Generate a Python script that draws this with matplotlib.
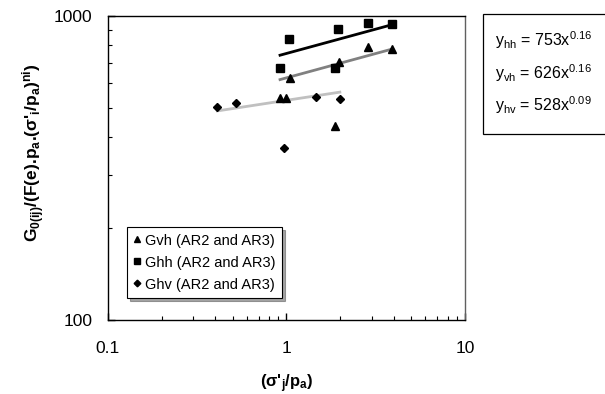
import numpy as np
import matplotlib
matplotlib.use("Agg")
import matplotlib.pyplot as plt
from matplotlib.patches import Rectangle
from matplotlib.ticker import LogLocator, FixedFormatter, FixedLocator, NullFormatter

plt.rcParams["font.family"] = ["Liberation Sans", "DejaVu Sans"]
plt.rcParams["mathtext.fontset"] = "custom"
plt.rcParams["mathtext.rm"] = "Liberation Sans"
plt.rcParams["mathtext.it"] = "Liberation Sans:italic"
plt.rcParams["mathtext.bf"] = "Liberation Sans:bold"

# Ghh measurements
hh_x = [0.92, 1.03, 1.87, 1.94, 2.85, 3.91]
hh_y = [674, 842, 673, 906, 950, 943]
# Gvh measurements
vh_x = [0.92, 0.99, 1.04, 1.88, 1.96, 2.85, 3.91]
vh_y = [539, 539, 624, 435, 704, 793, 777]
# Ghv measurements
hv_x = [0.41, 0.52, 0.97, 1.47, 1.99]
hv_y = [501, 516, 367, 543, 535]

# power law fits y = a * x^b and the x range of each trend line
fit_hh = (753, 0.16)
fit_vh = (626, 0.16)
fit_hv = (528, 0.09)
range_hh = (0.92, 3.91)
range_vh = (0.92, 3.91)
range_hv = (0.41, 1.99)

fig = plt.figure(figsize=(6.05, 3.94), dpi=100)
ax = fig.add_axes([0.1785, 0.1878, 0.5901, 0.7716])


def trend(fit, xr, color):
    xs = np.array(xr)
    ax.plot(xs, fit[0] * xs ** fit[1], color=color, lw=2, zorder=2)


trend(fit_hh, range_hh, "black")
trend(fit_vh, range_vh, "#808080")
trend(fit_hv, range_hv, "#c0c0c0")

ax.plot(vh_x, vh_y, "^", color="black", ms=6, ls="none", label="Gvh (AR2 and AR3)", zorder=3)
ax.plot(hh_x, hh_y, "s", color="black", ms=5.2, ls="none", label="Ghh (AR2 and AR3)", zorder=3)
ax.plot(hv_x, hv_y, "D", color="black", ms=4.5, ls="none", label="Ghv (AR2 and AR3)", zorder=3)

ax.set_xscale("log")
ax.set_yscale("log")
ax.set_xlim(0.1, 10)
ax.set_ylim(100, 1000)

ax.xaxis.set_major_locator(FixedLocator([0.1, 1, 10]))
ax.xaxis.set_major_formatter(FixedFormatter(["0.1", "1", "10"]))
ax.xaxis.set_minor_locator(LogLocator(base=10, subs=np.arange(2, 10)))
ax.xaxis.set_minor_formatter(NullFormatter())
ax.yaxis.set_major_locator(FixedLocator([100, 1000]))
ax.yaxis.set_major_formatter(FixedFormatter(["100", "1000"]))
ax.yaxis.set_minor_locator(LogLocator(base=10, subs=np.arange(2, 10)))
ax.yaxis.set_minor_formatter(NullFormatter())
ax.tick_params(which="both", direction="in", top=False, right=False, labelsize=12.5)
ax.tick_params(axis="x", pad=15)
ax.tick_params(axis="y", pad=11)
ax.tick_params(which="major", length=5, width=1)
ax.tick_params(which="minor", length=3, width=0.8)
for s in ax.spines.values():
    s.set_linewidth(1)
ax.spines["right"].set_color("#606060")

ax.set_xlabel(r"(σ'$_{\mathbf{j}}$/p$_{\mathbf{a}}$)", fontsize=12, fontweight="bold", labelpad=12)
ax.set_ylabel(r"G$_{\mathbf{0(ij)}}$/(F(e).p$_{\mathbf{a}}$.(σ'$_{\mathbf{i}}$/p$_{\mathbf{a}}$)$^{\mathbf{ni}}$)",
              fontsize=12.5, fontweight="bold")
ax.yaxis.set_label_coords(-0.17, 0.55)

leg = ax.legend(loc="lower left", bbox_to_anchor=(0.053, 0.072), borderaxespad=0,
                fontsize=10.5, frameon=True, fancybox=False, shadow=True,
                handlelength=0.5, handletextpad=0.3, borderpad=0.45, labelspacing=0.55,
                markerscale=0.75)
leg.get_frame().set_edgecolor("black")
leg.get_frame().set_linewidth(0.8)
leg.get_frame().set_alpha(1)

# equation box to the right of the axes
fig.add_artist(Rectangle((0.798, 0.66), 0.25, 0.3045, transform=fig.transFigure,
                         facecolor="white", edgecolor="black", lw=0.9))
eqs = [
    r"y$_{\mathrm{hh}}$ = 753x$^{0.16}$",
    r"y$_{\mathrm{vh}}$ = 626x$^{0.16}$",
    r"y$_{\mathrm{hv}}$ = 528x$^{0.09}$",
]
for i, t in enumerate(eqs):
    fig.text(0.818, 0.898 - i * 0.0825, t, fontsize=11.5, va="center", ha="left")

fig.savefig("out.png", dpi=100)
